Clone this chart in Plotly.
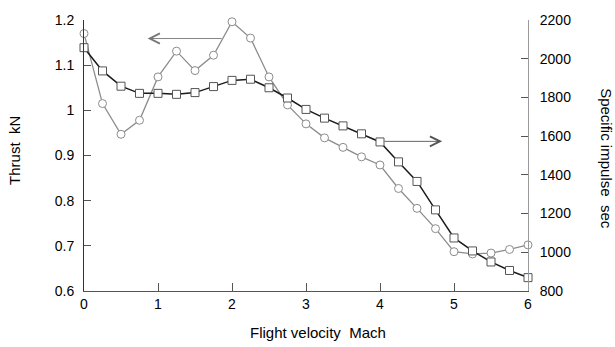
import plotly.graph_objects as go

# Flight Mach number samples
mach = [0, 0.25, 0.5, 0.75, 1.0, 1.25, 1.5, 1.75, 2.0, 2.25, 2.5, 2.75, 3.0,
        3.25, 3.5, 3.75, 4.0, 4.25, 4.5, 4.75, 5.0, 5.25, 5.5, 5.75, 6.0]

# Thrust, kN (left axis)
thrust = [1.170, 1.015, 0.947, 0.978, 1.074, 1.131, 1.088, 1.122, 1.196, 1.160,
          1.074, 1.012, 0.970, 0.939, 0.918, 0.897, 0.879, 0.827, 0.783, 0.738,
          0.687, 0.682, 0.684, 0.692, 0.702]

# Specific impulse, sec (right axis)
isp = [2057, 1937, 1858, 1821, 1821, 1816, 1825, 1856, 1888, 1894, 1850, 1797,
       1738, 1693, 1653, 1612, 1570, 1467, 1366, 1219, 1074, 1007, 950, 906, 869]

x_ticks = [0, 1, 2, 3, 4, 5, 6]
thrust_ticks = [0.6, 0.7, 0.8, 0.9, 1.0, 1.1, 1.2]
thrust_labels = ["0.6", "0.7", "0.8", "0.9", "1", "1.1", "1.2"]
isp_ticks = [800, 1000, 1200, 1400, 1600, 1800, 2000, 2200]

NBSP2 = "\u00a0\u00a0"
x_title = "Flight velocity" + NBSP2 + "Mach"
y_title = "Thrust" + NBSP2 + "kN"
y2_title = "Specific impulse" + NBSP2 + "sec"

FONT = "Liberation Sans, Arial, Helvetica, sans-serif"
DARK = "#555555"
GREY = "#8c8c8c"
FRAME = "#9a9a9a"

fig = go.Figure()

fig.add_trace(go.Scatter(
    x=mach, y=thrust, mode="lines+markers", yaxis="y", xaxis="x",
    line=dict(color=GREY, width=1.3),
    marker=dict(symbol="circle", size=8, color="white",
                line=dict(color=GREY, width=1)),
    cliponaxis=False, showlegend=False,
))

fig.add_trace(go.Scatter(
    x=mach, y=isp, mode="lines+markers", yaxis="y2", xaxis="x",
    line=dict(color="#1a1a1a", width=1.5),
    marker=dict(symbol="square", size=8, color="white",
                line=dict(color="#555555", width=1)),
    cliponaxis=False, showlegend=False,
))

tickfont = dict(family=FONT, size=14, color="black")

fig.update_layout(
    width=615, height=347,
    margin=dict(l=84, r=87, t=14, b=56),
    paper_bgcolor="white", plot_bgcolor="white",
    font=dict(family=FONT, size=14, color="black"),
    xaxis=dict(
        range=[0, 6], tickvals=x_ticks, ticks="inside", ticklen=8,
        tickcolor=DARK, linecolor=DARK, linewidth=1, showline=True,
        showgrid=False, zeroline=False, tickfont=tickfont,
    ),
    xaxis2=dict(
        range=[0, 6], tickvals=[1, 2, 3, 4, 5], ticks="inside", ticklen=8,
        tickcolor=DARK, linecolor=FRAME, linewidth=1, showline=True,
        showgrid=False, zeroline=False, showticklabels=False,
        overlaying="x", side="top", anchor="y",
    ),
    yaxis=dict(
        range=[0.6, 1.2], tickvals=thrust_ticks, ticktext=thrust_labels,
        ticks="inside", ticklen=7, tickcolor=DARK, linecolor="#333333",
        linewidth=1, showline=True, showgrid=False, zeroline=False,
        tickfont=tickfont, ticklabelstandoff=6,
    ),
    yaxis2=dict(
        range=[800, 2200], tickvals=isp_ticks, ticks="inside", ticklen=7,
        tickcolor=DARK, linecolor=FRAME, linewidth=1, showline=True,
        showgrid=False, zeroline=False, overlaying="y", side="right",
        tickfont=tickfont, ticklabelstandoff=8,
    ),
)

# Axis titles
fig.add_annotation(text=x_title, xref="paper", yref="paper",
                   x=0.527, y=-0.152, xanchor="center", yanchor="middle",
                   showarrow=False, font=dict(family=FONT, size=15, color="black"))
fig.add_annotation(text=y_title, xref="paper", yref="paper",
                   x=-0.158, y=0.52, xanchor="center", yanchor="middle",
                   textangle=-90, showarrow=False,
                   font=dict(family=FONT, size=15, color="black"))
fig.add_annotation(text=y2_title, xref="paper", yref="paper",
                   x=1.178, y=0.49, xanchor="center", yanchor="middle",
                   textangle=90, showarrow=False,
                   font=dict(family=FONT, size=15, color="black"))

# Arrows pointing each curve to its axis
fig.add_annotation(x=0.86, y=1.159, ax=1.88, ay=1.159, xref="x", yref="y",
                   axref="x", ayref="y", text="", showarrow=True,
                   arrowhead=5, arrowsize=2.2, arrowwidth=0.9, arrowcolor="#777777")
fig.add_annotation(x=4.84, y=1573, ax=4.04, ay=1573, xref="x", yref="y2",
                   axref="x", ayref="y2", text="", showarrow=True,
                   arrowhead=5, arrowsize=2.2, arrowwidth=0.9, arrowcolor="#555555")

fig.write_html("out.html")
